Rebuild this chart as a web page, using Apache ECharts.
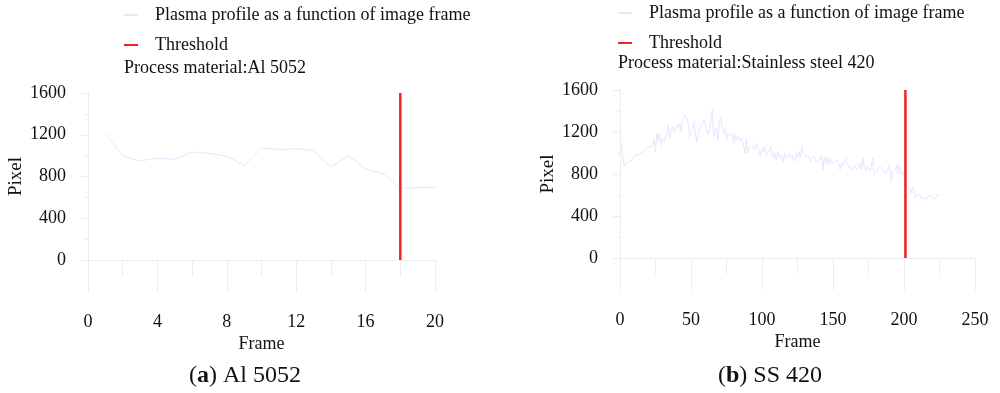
<!DOCTYPE html>
<html>
<head>
<meta charset="utf-8">
<script src="https://cdn.jsdelivr.net/npm/echarts@6/dist/echarts.min.js"></script>
<style>
	html, body { margin: 0; padding: 0; background: #fff; }
	#chart { width: 1000px; height: 393px; }
</style>
</head>
<body>
<div id="chart"></div>
<script>
// panel (a) Al 5052, frames 1..20
var profileA = [1210, 998, 950, 976, 966, 1034, 1021, 995, 906, 1075,
	1059, 1066, 1050, 890, 1002, 874, 829, 685, 694, 698];
var thresholdA = 18;

// panel (b) SS 420, frames 1..225
var profileB = [
	1094, 960, 871, 903, 887, 920, 935, 919, 960, 950,
	982, 966, 990, 982, 1000, 1014, 1030, 1025, 1046, 1036,
	1060, 1077, 1061, 1125, 1014, 1189, 1110, 1189, 1077, 1141,
	1120, 1110, 1173, 1268, 1141, 1220, 1252, 1204, 1240, 1268,
	1236, 1284, 1204, 1315, 1340, 1363, 1370, 1284, 1157, 1141,
	1220, 1300, 1189, 1100, 1180, 1236, 1220, 1284, 1315, 1268,
	1284, 1173, 1220, 1220, 1410, 1157, 1205, 1236, 1125, 1280,
	1347, 1220, 1189, 1236, 1125, 1189, 1160, 1141, 1189, 1094,
	1173, 1125, 1157, 1130, 1110, 1141, 1157, 998, 1141, 998,
	1040, 1061, 1046, 1061, 1030, 1094, 1061, 1000, 966, 1046,
	1014, 1061, 966, 1000, 1014, 1061, 998, 950, 998, 935,
	1014, 980, 950, 982, 919, 998, 950, 970, 998, 950,
	982, 998, 919, 998, 966, 1014, 950, 1061, 998, 982,
	966, 980, 966, 919, 950, 935, 966, 919, 935, 925,
	919, 966, 840, 966, 903, 966, 887, 950, 903, 919,
	910, 903, 935, 935, 840, 903, 871, 919, 950, 900,
	887, 855, 871, 840, 887, 860, 840, 871, 903, 840,
	950, 870, 824, 871, 855, 824, 871, 950, 792, 808,
	824, 871, 887, 860, 840, 840, 808, 824, 855, 887,
	729, 824, 808, 840, 887, 808, 887, 792, 824, 808,
	720, 665, 650, 665, 618, 680, 634, 570, 602, 586,
	602, 570, 586, 570, 586, 560, 586, 586, 602, 570,
	586, 560, 602, 586, 600
];
var thresholdB = 201;

var yMax = 1600;
var materialA = 'Process material:Al 5052';
var materialB = 'Process material:Stainless steel 420';
var profileName = 'Plasma profile as a function of image frame';
var thresholdName = 'Threshold';

var font = 'Liberation Serif';
var faint = '#ececec';
var profileColor = '#e6e6ff';
var red = '#ee2222';

function xAxisOf(gridIndex, max, interval) {
	return {
		type: 'value',
		gridIndex: gridIndex,
		min: 0,
		max: max,
		interval: interval,
		name: 'Frame',
		nameLocation: 'middle',
		nameGap: 75,
		nameTextStyle: { fontFamily: font, fontSize: 18, color: '#111' },
		axisLine: { show: true, lineStyle: { color: faint, width: 1 } },
		axisTick: { show: true, length: 32, lineStyle: { color: faint } },
		minorTick: { show: true, splitNumber: 2, length: 16, lineStyle: { color: faint } },
		axisLabel: { margin: 53, fontFamily: font, fontSize: 18, color: '#111' },
		splitLine: { show: false }
	};
}

function yAxisOf(gridIndex) {
	return {
		type: 'value',
		gridIndex: gridIndex,
		min: 0,
		max: yMax,
		interval: 400,
		name: 'Pixel',
		nameLocation: 'middle',
		nameGap: 62,
		nameTextStyle: { fontFamily: font, fontSize: 19, color: '#111' },
		axisLine: { show: true, lineStyle: { color: faint, width: 1 } },
		axisTick: { show: true, length: 7, lineStyle: { color: faint } },
		minorTick: { show: true, splitNumber: 2, length: 3, lineStyle: { color: faint } },
		axisLabel: { margin: 22, fontFamily: font, fontSize: 18, color: '#111',
			formatter: function (v) { return String(v); } },
		splitLine: { show: false }
	};
}

function legendOf(left, top) {
	return {
		orient: 'vertical',
		left: left,
		top: top,
		padding: 0,
		icon: 'rect',
		itemWidth: 14,
		itemHeight: 2,
		itemGap: 12,
		data: [profileName, thresholdName],
		textStyle: { fontFamily: font, fontSize: 18, color: '#111', padding: [0, 0, 0, 12] }
	};
}

function caption(letter, rest, x) {
	return {
		text: '{n|(}{b|' + letter + '}{n|) ' + rest + '}', left: x, textAlign: 'center', top: 364, padding: 0,
		textStyle: { rich: {
			n: { fontFamily: font, fontSize: 24, fontWeight: 'normal', color: '#111' },
			b: { fontFamily: font, fontSize: 24, fontWeight: 'bold', color: '#111' } } }
	};
}

var chart = echarts.init(document.getElementById('chart'));
var option = {
	backgroundColor: '#fff',
	animation: false,
	title: [
		{ text: materialA, left: 124, top: 59, padding: 0,
			textStyle: { fontFamily: font, fontSize: 18, fontWeight: 'normal', color: '#111' } },
		{ text: materialB, left: 618, top: 54, padding: 0,
			textStyle: { fontFamily: font, fontSize: 18, fontWeight: 'normal', color: '#111' } },
		caption('a', 'Al 5052', 245),
		caption('b', 'SS 420', 770)
	],
	legend: [legendOf(124, 6), legendOf(618, 4)],
	grid: [
		{ left: 88, right: 565, top: 93, bottom: 133 },
		{ left: 620, right: 25, top: 90, bottom: 135 }
	],
	xAxis: [xAxisOf(0, 20, 4), xAxisOf(1, 250, 50)],
	yAxis: [yAxisOf(0), yAxisOf(1)],
	series: [
		{
			name: profileName, type: 'line', xAxisIndex: 0, yAxisIndex: 0,
			symbol: 'none', color: profileColor,
			lineStyle: { width: 1, color: profileColor },
			data: profileA.map(function (v, i) { return [i + 1, v]; })
		},
		{
			name: thresholdName, type: 'line', xAxisIndex: 0, yAxisIndex: 0,
			symbol: 'none', color: red,
			lineStyle: { width: 2.5, color: red },
			data: [[thresholdA, 0], [thresholdA, yMax]]
		},
		{
			name: profileName, type: 'line', xAxisIndex: 1, yAxisIndex: 1,
			symbol: 'none', color: profileColor,
			lineStyle: { width: 1, color: profileColor },
			data: profileB.map(function (v, i) { return [i + 1, v]; })
		},
		{
			name: thresholdName, type: 'line', xAxisIndex: 1, yAxisIndex: 1,
			symbol: 'none', color: red,
			lineStyle: { width: 2.5, color: red },
			data: [[thresholdB, 0], [thresholdB, yMax]]
		}
	]
};
chart.setOption(option);
</script>
</body>
</html>
